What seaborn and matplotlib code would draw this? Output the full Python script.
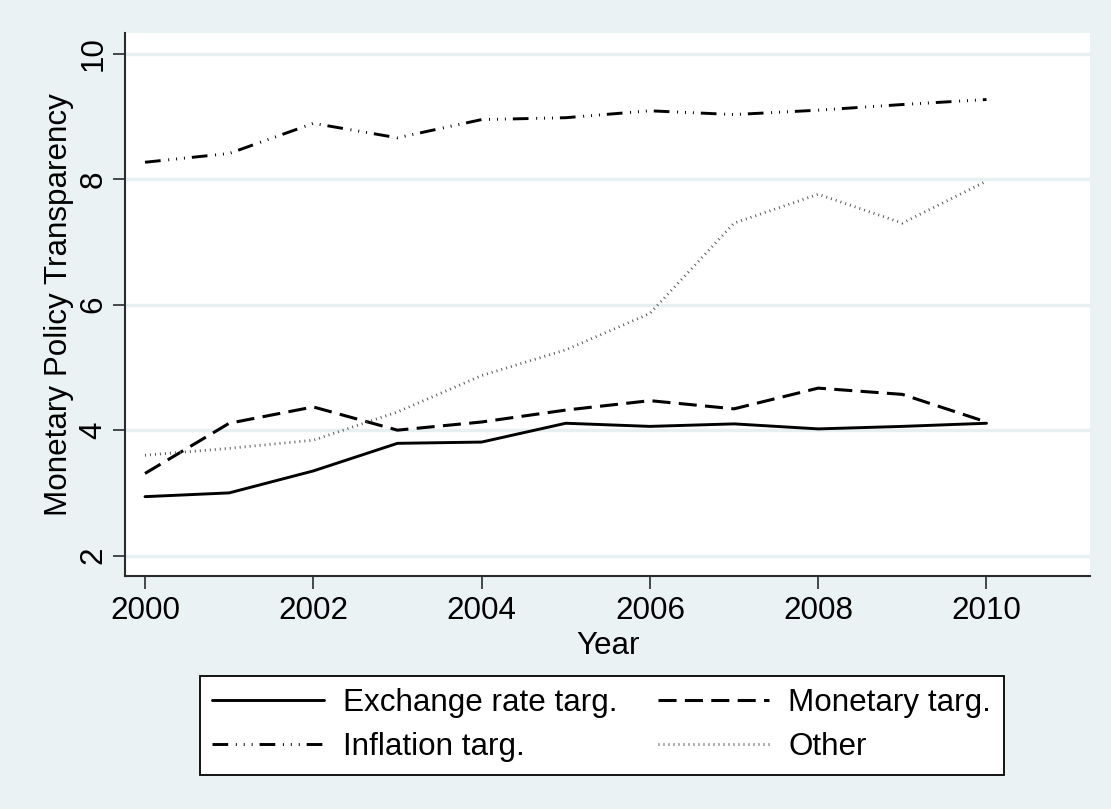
import matplotlib
matplotlib.use("Agg")
import matplotlib.pyplot as plt
import seaborn as sns
import pandas as pd

# ---- data ----
years = [2000, 2001, 2002, 2003, 2004, 2005, 2006, 2007, 2008, 2009, 2010]
exchange_rate_targ = [2.94, 3.00, 3.35, 3.79, 3.81, 4.11, 4.06, 4.10, 4.02, 4.06, 4.11]
monetary_targ = [3.31, 4.11, 4.37, 4.00, 4.13, 4.32, 4.47, 4.34, 4.67, 4.57, 4.13]
inflation_targ = [8.27, 8.41, 8.89, 8.66, 8.95, 8.98, 9.09, 9.03, 9.10, 9.19, 9.27]
other = [3.60, 3.71, 3.84, 4.29, 4.87, 5.28, 5.86, 7.30, 7.76, 7.30, 7.97]
series_labels = ["Exchange rate targ.", "Monetary targ.", "Inflation targ.", "Other"]
x_ticks = [2000, 2002, 2004, 2006, 2008, 2010]
y_ticks = [2, 4, 6, 8, 10]
x_label = "Year"
y_label = "Monetary Policy Transparency"

sns.set_style("white")
plt.rcParams['font.family'] = ['Liberation Sans', 'DejaVu Sans']
plt.rcParams['lines.scale_dashes'] = False
plt.rcParams['text.color'] = 'black'
plt.rcParams['axes.labelcolor'] = 'black'

BG = "#EAF2F3"
GRID = "#E6EFF1"
AXC = "#2b2b2b"
FS = 22.6

fig = plt.figure(figsize=(11.11, 8.09), dpi=100, facecolor=BG)
ax = fig.add_axes([0.1128, 0.2886, 0.8683, 0.6706])
ax.set_facecolor("white")

styles = [
    dict(color="black", lw=2.1, ls="-"),
    dict(color="black", lw=2.2, ls=(0, (13, 6))),
    dict(color="black", lw=2.1, ls=(0, (11.3, 5.5, 0.7, 5.0, 0.7, 5.0, 0.7, 5.0))),
    dict(color="#555555", lw=2.0, ls=(0, (0.7, 2.9))),
]
series = [exchange_rate_targ, monetary_targ, inflation_targ, other]

for vals, lab, st in zip(series, series_labels, styles):
    df = pd.DataFrame({"Year": years, "Value": vals})
    sns.lineplot(data=df, x="Year", y="Value", ax=ax, label=lab,
                 color=st["color"], linewidth=st["lw"], linestyle=st["ls"],
                 legend=False)

ax.set_xlim(1999.766, 2011.23)
ax.set_ylim(1.683, 10.33)
ax.set_xticks(x_ticks)
ax.set_yticks(y_ticks)
ax.set_xticklabels([str(t) for t in x_ticks])
ax.set_yticklabels([str(t) for t in y_ticks])

ax.yaxis.grid(True, color=GRID, lw=2.5)
ax.xaxis.grid(False)
ax.set_axisbelow(True)

for s in ["top", "right"]:
    ax.spines[s].set_visible(False)
for s in ["left", "bottom"]:
    ax.spines[s].set_color(AXC)
    ax.spines[s].set_linewidth(1.5)

ax.tick_params(axis="both", which="major", length=9, width=1.2, color=AXC,
               labelsize=FS, labelcolor="black", direction="out")
ax.tick_params(axis="x", pad=6)
ax.tick_params(axis="y", pad=3)
ax.tick_params(left=True, bottom=True)
for t in ax.get_yticklabels():
    t.set_rotation(90)
    t.set_va("center")
    t.set_ha("right")

ax.set_xlabel(x_label, fontsize=FS, labelpad=3, color="black")
ax.set_ylabel(y_label, fontsize=FS, labelpad=3, color="black")

lines = ax.get_lines()[:4]
order = [0, 2, 1, 3]
leg = fig.legend([lines[i] for i in order], [series_labels[i] for i in order],
                 ncol=2, loc="center", bbox_to_anchor=(0.5415, 0.1035),
                 frameon=True, fancybox=False, edgecolor="black", framealpha=1,
                 facecolor="white", fontsize=FS, handlelength=3.55,
                 handletextpad=0.6, columnspacing=1.3, labelspacing=0.45,
                 borderpad=0.4, borderaxespad=0)
leg.get_frame().set_linewidth(1.3)
for t in leg.get_texts():
    t.set_color("black")

fig.savefig("out.png", dpi=100, facecolor=BG)
